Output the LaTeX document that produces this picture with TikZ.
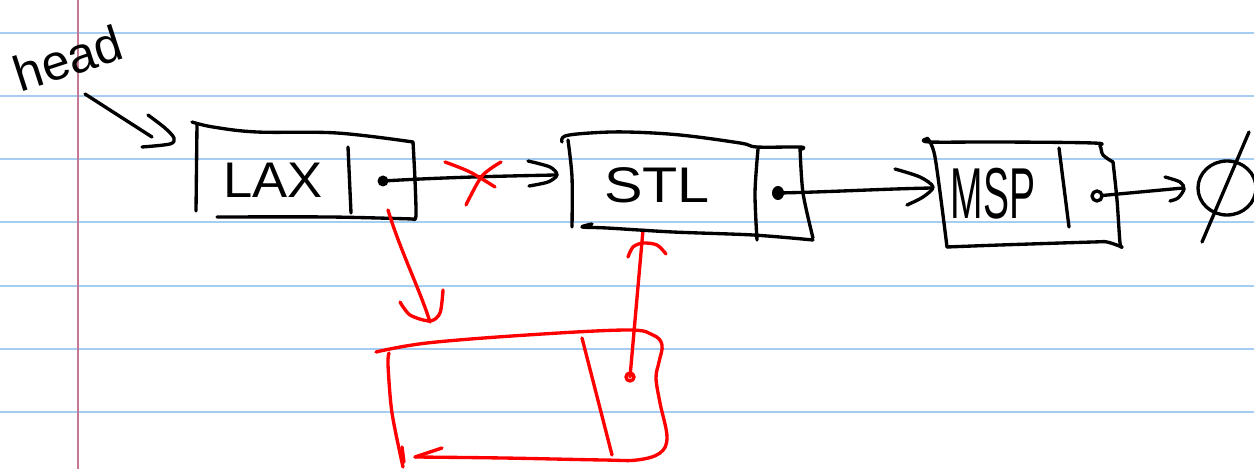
\documentclass[tikz,border=0pt]{standalone}
\usepackage{fontspec}
\setmainfont{Liberation Sans}
\definecolor{rulecol}{RGB}{166,204,242}
\definecolor{margincol}{RGB}{196,120,150}
\definecolor{redpen}{RGB}{255,0,0}
\begin{document}
\begin{tikzpicture}[x=0.02cm,y=-0.02cm,
  ink/.style={line width=1.9pt,line cap=round,line join=round},
  blk/.style={ink,draw=black},
  rd/.style={ink,draw=redpen},
  lbl/.style={font=\fontsize{28.5}{30}\selectfont,inner sep=0pt}]
\fill[white] (0,0) rectangle (1254,469);
\useasboundingbox (0,0) rectangle (1254,469);
% notebook paper
\foreach \yy in {33,96,159,222,286,349,412}
  \draw[rulecol,line width=1.1pt] (0,\yy) -- (1254,\yy);
\draw[margincol,line width=1.1pt] (78,0) -- (78,469);

% texts
\node[lbl,rotate=18] (head) at (68,58) {head};
\node[lbl] (lax) at (273,180) {\scalebox{1.05}[1]{LAX}};
\node[lbl] (stl) at (657,185) {\scalebox{1.15}[1]{STL}};
\node[lbl] (msp) at (993,194) {\scalebox{0.78}[1.44]{MSP}};

% head arrow
\coordinate (headtail) at (85,94);
\coordinate (headtip) at (152,137);
\draw[blk] (headtail) -- (headtip);
\draw[blk] plot[smooth] coordinates {(148,115) (165,128) (174,138) (170,144) (142,147)};

% LAX box
\draw[blk] plot[smooth,tension=0.6] coordinates {(192,122) (213,127) (257,132) (337,133) (413,142)};
\draw[blk] (197,124) -- (196,211);
\draw[blk] plot[smooth] coordinates {(413,142) (415,180) (416,216) (413,219)};
\draw[blk] plot[smooth] coordinates {(413,219) (330,217) (217,217)};
\draw[blk] (348,147) -- (351,213);
\coordinate (laxdot) at (383,181);
\fill (laxdot) circle (5.5);
\coordinate (stlin) at (555,175);
\draw[blk] (laxdot) .. controls (450,177) and (510,176) .. (stlin);
\draw[blk] plot[smooth] coordinates {(528,161) (550,167) (557,175) (548,182) (529,186)};
% red cross
\draw[rd] plot[smooth] coordinates {(445,162) (470,172) (495,187)};
\draw[rd] plot[smooth] coordinates {(501,162) (482,176) (466,205)};

% red link to new node
\coordinate (laxnext) at (388,210);
\coordinate (newtop) at (430,322);
\draw[rd] (laxnext) .. controls (400,250) and (420,290) .. (newtop);
\draw[rd] plot[smooth] coordinates {(400,302) (410,315) (430,321) (440,313) (443,290)};

% red new box
\draw[rd] plot[smooth,tension=0.6] coordinates {(376,352) (427,343) (527,335) (627,330) (653,335) (662,345) (659,362) (656,378) (660,403) (667,437) (660,453) (637,460) (603,460) (503,458) (415,457)};
\draw[rd] (442,448) -- (415,457);
\draw[rd] plot[smooth] coordinates {(389,353) (388,365) (392,413) (403,467)};
\draw[rd] (402,447) -- (404,462);
\draw[rd] (582,338) -- (612,455);
\coordinate (newdot) at (630,377);
\draw[rd] (newdot) circle (4);
\coordinate (stlbot) at (643,230);
\draw[rd] (newdot) -- (stlbot);
\draw[rd] plot[smooth] coordinates {(628,257) (633,247) (643,243) (657,245) (666,254)};

% STL box
\draw[blk] plot[smooth,tension=0.6] coordinates {(562,142) (565,136) (590,133) (627,132) (680,135) (740,143) (757,147) (800,147) (802,149)};
\draw[blk] plot[smooth] coordinates {(568,140) (572,177) (572,227)};
\draw[blk] plot[smooth] coordinates {(800,148) (803,193) (813,238)};
\draw[blk] plot[smooth] coordinates {(813,240) (753,235) (673,232) (607,228) (582,227) (592,224)};
\draw[blk] plot[smooth] coordinates {(758,149) (755,193) (757,240)};
\coordinate (stldot) at (778,193);
\fill (stldot) ellipse (6 and 7);
\coordinate (mspin) at (932,188);
\draw[blk] (stldot) .. controls (830,192) and (880,189) .. (mspin);
\draw[blk] plot[smooth] coordinates {(895,169) (920,177) (933,187) (923,197) (907,205)};

% MSP box
\draw[blk] plot[smooth,tension=0.6] coordinates {(926,139) (930,142) (1000,142) (1093,143) (1100,146) (1103,155) (1113,162)};
\draw[blk] plot[smooth] coordinates {(927,138) (935,157) (947,247)};
\draw[blk] plot[smooth] coordinates {(1113,162) (1117,200) (1120,243) (1122,247)};
\draw[blk] plot[smooth] coordinates {(1122,247) (1107,242) (1093,242) (1000,245) (947,247)};
\draw[blk] (1059,148) -- (1069,227);
\coordinate (mspdot) at (1097,196);
\draw[blk] (mspdot) circle (5);
\coordinate (nullin) at (1183,188);
\draw[blk,shorten <=0.1cm] (mspdot) -- (nullin);
\draw[blk] plot[smooth] coordinates {(1165,177) (1180,182) (1184,189) (1178,198) (1170,201)};

% null symbol
\coordinate (null) at (1227,188);
\draw[blk] (null) ellipse (29 and 27);
\draw[blk] (1249,132) -- (1202,242);
\end{tikzpicture}
\end{document}
